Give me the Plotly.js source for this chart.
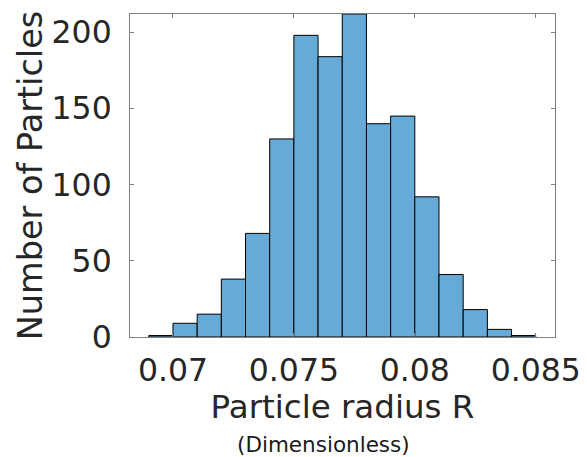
<!DOCTYPE html>
<html>
<head>
<meta charset="utf-8">
<script src="https://cdn.plot.ly/plotly-3.0.1.min.js"></script>
<style>html,body{margin:0;padding:0;background:#fff;}#chart{width:587px;height:457px;}</style>
</head>
<body>
<div id="chart"></div>
<script>
// Histogram of particle radii: left bin edges (bin width 0.001) and counts
var binLeftEdges = [0.069, 0.070, 0.071, 0.072, 0.073, 0.074, 0.075, 0.076, 0.077, 0.078, 0.079, 0.080, 0.081, 0.082, 0.083, 0.084];
var binWidth = 0.001;
var counts = [1, 9, 15, 38, 68, 130, 198, 184, 212, 140, 145, 92, 41, 18, 5, 1];
var xTickValues = [0.07, 0.075, 0.08, 0.085];
var xTickLabels = ["0.07", "0.075", "0.08", "0.085"];
var yTickValues = [0, 50, 100, 150, 200];
var yTickLabels = ["0", "50", "100", "150", "200"];

var font = "DejaVu Sans, sans-serif";
var trace = {
  type: "bar",
  x: binLeftEdges,
  y: counts,
  width: binLeftEdges.map(function(){return binWidth;}),
  offset: 0,
  marker: {color: "#66aad7", line: {color: "#000000", width: 1}},
  hoverinfo: "x+y"
};
var axisCommon = {
  showgrid: false, zeroline: false, showline: true, linecolor: "#808080", linewidth: 1,
  mirror: "allticks", ticks: "inside", ticklen: 4, tickcolor: "#808080",
  tickfont: {family: font, size: 31.5, color: "#262626"}
};
var layout = {
  width: 587, height: 457,
  margin: {l: 130, r: 32, t: 14, b: 120, pad: 0},
  paper_bgcolor: "#ffffff", plot_bgcolor: "#ffffff",
  showlegend: false,
  bargap: 0,
  xaxis: Object.assign({}, axisCommon, {
    range: [0.068223, 0.085797], tickmode: "array", tickvals: xTickValues, ticktext: xTickLabels,
    ticklabelstandoff: 5,
    title: {text: "Particle radius R", font: {family: font, size: 32.5, color: "#262626"}, standoff: 6}
  }),
  yaxis: Object.assign({}, axisCommon, {
    range: [0, 212], tickmode: "array", tickvals: yTickValues, ticktext: yTickLabels,
    ticklabelstandoff: 11,
    title: {text: "Number of Particles", font: {family: font, size: 33.5, color: "#262626"}}
  }),
  annotations: [{
    text: "(Dimensionless)", xref: "paper", yref: "paper", x: 0.455, y: -0.333,
    xanchor: "center", yanchor: "middle", showarrow: false,
    font: {family: font, size: 21.5, color: "#1a1a1a"}
  }]
};
Plotly.newPlot("chart", [trace], layout, {displayModeBar: false, staticPlot: true});
</script>
</body>
</html>
